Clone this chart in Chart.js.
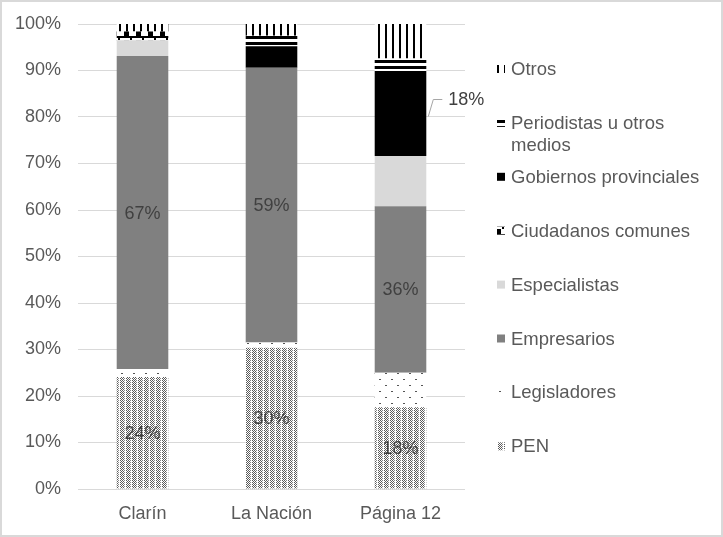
<!DOCTYPE html>
<html>
<head>
<meta charset="utf-8">
<script src="https://cdn.jsdelivr.net/npm/chart.js@4.4.1/dist/chart.umd.min.js"></script>
<style>
  html, body { margin: 0; padding: 0; background: #fff; }
  #wrap { width: 723px; height: 537px; }
</style>
</head>
<body>
<div id="wrap"><canvas id="chart" width="723" height="537"></canvas></div>
<script>
// categorías y series (de abajo hacia arriba en la pila)
const categories = ["Clarín", "La Nación", "Página 12"];
const seriesNames = ["PEN", "Legisladores", "Empresarios", "Especialistas",
  "Ciudadanos comunes", "Gobiernos provinciales", "Periodistas u otros medios", "Otros"];

const pen           = [24.1, 30.4, 17.6];
const legisladores  = [1.7, 1.1, 7.4];
const empresarios   = [67.3, 59.1, 35.8];
const especialistas = [3.4, 0, 10.8];
const ciudadanos    = [1.9, 0, 0];
const gobiernos     = [0, 4.6, 18.3];
const periodistas   = [0, 2.3, 2.7];
const otros         = [1.6, 2.5, 7.4];

const yTicks = [0, 10, 20, 30, 40, 50, 60, 70, 80, 90, 100];

// etiquetas de datos: series con valor dentro de la barra, y una afuera
const insideLabelSeries = ["PEN", "Empresarios"];
const outsideLabel = { series: "Gobiernos provinciales", index: 2 };

const TXT = "#595959";
const FONT = "'Liberation Sans', Arial, sans-serif";

function makePattern(w, h, draw){
  const c = document.createElement("canvas");
  c.width = w; c.height = h;
  const g = c.getContext("2d");
  g.fillStyle = "#fff";
  g.fillRect(0, 0, w, h);
  draw(g);
  return c.getContext("2d").createPattern(c, "repeat");
}

// PEN: puntos densos en columnas
const patPen = makePattern(6, 2, (g) => {
  g.fillStyle = "#5a5a5a";
  g.fillRect(0, 0, 1, 1);
  g.fillRect(2, 0, 1, 1);
  g.fillRect(3, 1, 1, 1);
  g.fillRect(1, 1, 1, 1);
  g.fillStyle = "#8a8a8a";
  g.fillRect(4, 0, 1, 1);
});
// Legisladores: puntos dispersos
const patLeg = makePattern(12, 12, (g) => {
  g.fillStyle = "#555";
  g.fillRect(1, 1, 2, 1);
  g.fillRect(7, 7, 2, 1);
});
// Ciudadanos comunes: bloques tipo damero
const patCiu = makePattern(12, 9, (g) => {
  g.fillStyle = "#000";
  g.fillRect(0, 0, 12, 2);
  g.fillRect(4, 4, 5, 5);
  g.fillRect(10, 0, 2, 4);
});
// Periodistas: rayas horizontales
const patPer = makePattern(1, 6, (g) => {
  g.fillStyle = "#000";
  g.fillRect(0, 0, 1, 3);
});
// Otros: rayas verticales
const patOtr = makePattern(7, 1, (g) => {
  g.fillStyle = "#000";
  g.fillRect(0, 0, 2, 1);
});

const fills = [patPen, patLeg, "#808080", "#d9d9d9", patCiu, "#000000", patPer, patOtr];
const values = [pen, legisladores, empresarios, especialistas, ciudadanos, gobiernos, periodistas, otros];

const datasets = seriesNames.map((name, i) => ({
  label: name,
  data: values[i],
  backgroundColor: fills[i],
  borderWidth: 0,
  barPercentage: 0.4,
  categoryPercentage: 1.0,
}));

const framePlugin = {
  id: "frame",
  beforeDraw(chart){
    const { ctx, width, height } = chart;
    ctx.save();
    ctx.fillStyle = "#fff";
    ctx.fillRect(0, 0, width, height);
    ctx.strokeStyle = "#d9d9d9";
    ctx.lineWidth = 2;
    ctx.strokeRect(1, 1, width - 2, height - 2);
    ctx.restore();
  }
};

const labelsPlugin = {
  id: "barLabels",
  afterDatasetsDraw(chart){
    const { ctx } = chart;
    ctx.save();
    ctx.font = `18px ${FONT}`;
    ctx.fillStyle = "#404040";
    ctx.textAlign = "center";
    ctx.textBaseline = "middle";
    chart.data.datasets.forEach((ds, di) => {
      const meta = chart.getDatasetMeta(di);
      if (insideLabelSeries.includes(ds.label)) {
        meta.data.forEach((bar, i) => {
          const v = ds.data[i];
          if (!v) return;
          const { x, y, base } = bar.getProps(["x", "y", "base"], true);
          ctx.fillText(Math.round(v) + "%", x, (y + base) / 2 + 1);
        });
      }
      if (ds.label === outsideLabel.series) {
        const bar = meta.data[outsideLabel.index];
        const { x, y, base, width } = bar.getProps(["x", "y", "base", "width"], true);
        const right = x + width / 2;
        const mid = (y + base) / 2;
        ctx.strokeStyle = "#a6a6a6";
        ctx.lineWidth = 1;
        ctx.beginPath();
        ctx.moveTo(right + 2, mid + 3);
        ctx.lineTo(right + 7, mid - 14);
        ctx.lineTo(right + 16, mid - 14);
        ctx.stroke();
        ctx.textAlign = "left";
        ctx.fillText(Math.round(ds.data[outsideLabel.index]) + "%", right + 22, mid - 13);
        ctx.textAlign = "center";
      }
    });
    ctx.restore();
  }
};

const legendPlugin = {
  id: "sideLegend",
  afterDraw(chart){
    const { ctx } = chart;
    const x0 = 497, tx = 511, top = 69, step = 53.9, lineH = 22, maxW = 200;
    ctx.save();
    ctx.font = `18.5px ${FONT}`;
    ctx.textBaseline = "middle";
    ctx.textAlign = "left";
    const list = chart.data.datasets.slice().reverse();
    list.forEach((ds, i) => {
      const cy = top + i * step;
      ctx.fillStyle = ds.backgroundColor;
      ctx.fillRect(x0, cy - 4, 8, 8);
      // ajuste de líneas
      const words = ds.label.split(" ");
      const lines = [];
      let cur = "";
      words.forEach((w) => {
        const t = cur ? cur + " " + w : w;
        if (ctx.measureText(t).width > maxW && cur) { lines.push(cur); cur = w; }
        else cur = t;
      });
      lines.push(cur);
      ctx.fillStyle = TXT;
      lines.forEach((ln, k) => ctx.fillText(ln, tx, cy + k * lineH + 1));
    });
    ctx.restore();
  }
};

new Chart(document.getElementById("chart"), {
  type: "bar",
  data: { labels: categories, datasets },
  plugins: [framePlugin, labelsPlugin, legendPlugin],
  options: {
    responsive: false,
    animation: false,
    layout: { padding: { left: 8, right: 258, top: 24, bottom: 0 } },
    plugins: { legend: { display: false }, tooltip: { enabled: false } },
    scales: {
      x: {
        stacked: true,
        grid: { display: false },
        border: { display: false },
        ticks: { color: TXT, font: { size: 18, family: FONT }, padding: 6 },
        afterFit(scale){ scale.height = 537 - 489; },
      },
      y: {
        stacked: true,
        min: 0,
        max: 100,
        afterBuildTicks(scale){ scale.ticks = yTicks.map(v => ({ value: v })); },
        grid: { color: "#d9d9d9", drawTicks: false },
        border: { display: false },
        ticks: { color: TXT, font: { size: 18, family: FONT }, padding: 17, callback: (v) => v + "%" },
        afterFit(scale){ scale.width = 70; scale.paddingTop = 0; scale.paddingBottom = 0; },
      }
    }
  }
});
</script>
</body>
</html>
